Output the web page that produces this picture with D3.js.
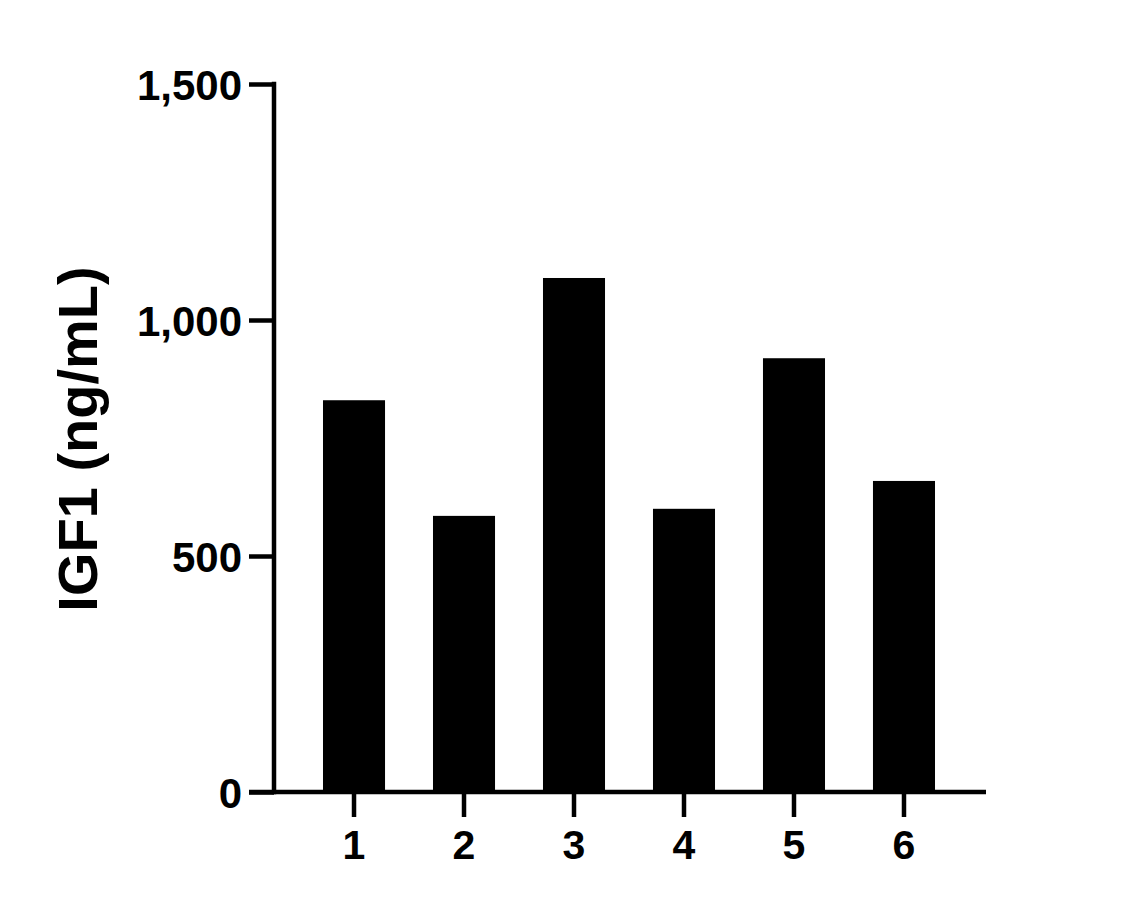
<!DOCTYPE html>
<html>
<head>
<meta charset="utf-8">
<script src="https://cdn.jsdelivr.net/npm/d3@7"></script>
<style>
  html, body { margin: 0; padding: 0; background: #fff; }
  svg { display: block; }
  text { font-family: "Liberation Sans", Arial, sans-serif; font-weight: bold; }
</style>
</head>
<body>
<svg id="chart" width="1121" height="908"></svg>
<script>
const categories = ["1", "2", "3", "4", "5", "6"];
const values = [830, 585, 1089, 600, 919, 659];
const yTicks = [0, 500, 1000, 1500];
const yLabel = "IGF1 (ng/mL)";

const svg = d3.select("#chart");

const y = d3.scaleLinear().domain([0, 1500]).range([792, 84]);
const x = d3.scaleBand().domain(categories).range([273, 985])
  .paddingInner(0.436).paddingOuter(0.4545);

const strokeW = 4.5;

// bars
svg.append("g").selectAll("rect").data(values).join("rect")
  .attr("x", (d, i) => x(categories[i]))
  .attr("width", x.bandwidth())
  .attr("y", d => y(d))
  .attr("height", d => y(0) - y(d))
  .attr("fill", "#000");

// y axis
const yAxis = svg.append("g").attr("transform", "translate(274,0)")
  .call(d3.axisLeft(y).tickValues(yTicks).tickSize(25).tickSizeOuter(0).tickPadding(7)
    .tickFormat(d3.format(",")));
yAxis.selectAll("path, line").attr("stroke", "#000").attr("stroke-width", strokeW);
yAxis.select(".domain").attr("d", `M0,${y(0) + strokeW/2}V${y(1500) - strokeW/2}`);
yAxis.selectAll("text").attr("font-size", 42).attr("fill", "#000")
  .attr("font-family", "Liberation Sans, Arial, sans-serif").attr("font-weight", "bold")
  .attr("dy", "0.36em");

// x axis
const xAxis = svg.append("g").attr("transform", "translate(0,792)")
  .call(d3.axisBottom(x).tickSize(25).tickSizeOuter(0).tickPadding(13));
xAxis.selectAll("path, line").attr("stroke", "#000").attr("stroke-width", strokeW);
xAxis.select(".domain").attr("d", "M249,0H986");
xAxis.selectAll("text").attr("font-size", 41).attr("fill", "#000")
  .attr("font-family", "Liberation Sans, Arial, sans-serif").attr("font-weight", "bold");

// y label
svg.append("text")
  .attr("transform", "translate(97,439) rotate(-90)")
  .attr("text-anchor", "middle")
  .attr("font-size", 56)
  .attr("fill", "#000")
  .text(yLabel);
</script>
</body>
</html>
